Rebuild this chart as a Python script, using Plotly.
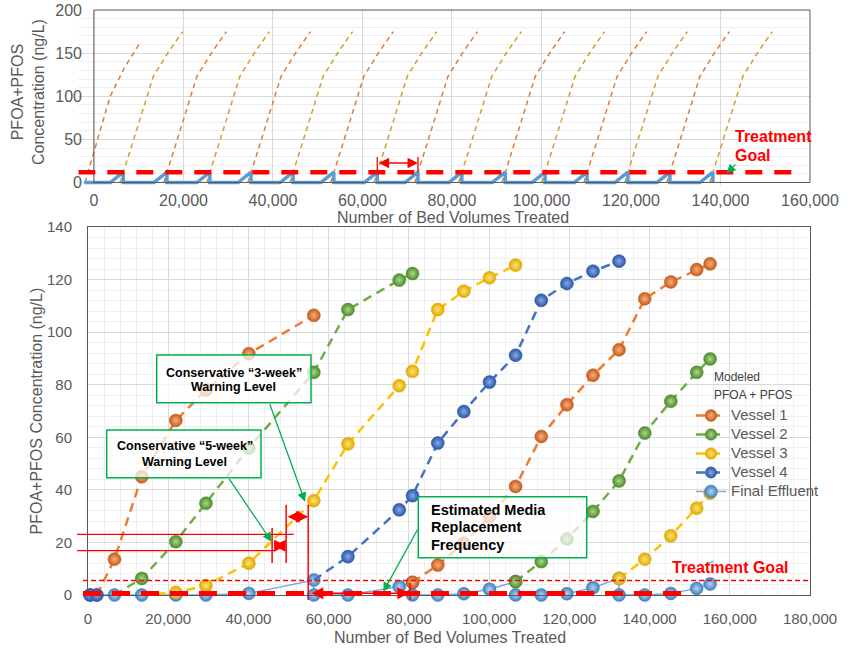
import plotly.graph_objects as go

W, H = 856, 649

# ================= upper panel data (lead/lag sequence) =================
top_goal = 12
top_first_x = [-2000, 3600, 6900, 10300]
top_first_y = [0, 99.5, 134, 162]
top_cross_x = [6550, 16300, 25900, 35100, 44500, 53600, 63300, 72400,
               82200, 91900, 100800, 110200, 119300, 128700, 138300]
top_cross_series = ["B", "A", "B", "A", "B", "A", "B", "A",
                    "B", "A", "B", "A", "B", "A", "B"]
top_curve_dx = [-700, 0, 3350, 6700, 10050, 13300]
top_curve_y = [0, 12, 67, 123, 151, 175]
top_eff_start_x = -2200
top_eff_rise_bv = 2900
top_span_x = [63300, 72400]
top_span_y = 22.6
top_span_tick_y = [12, 29.6]
top_xticks = [0, 20000, 40000, 60000, 80000, 100000, 120000, 140000, 160000]
top_yticks = [0, 50, 100, 150, 200]

# ================= lower panel data =================
v1_start = (2200, 0)
v1a_x = [6600, 13400, 21900, 29400, 40100, 56300]
v1a_y = [13.6, 45.0, 66.4, 78.0, 91.8, 106.4]
v1b_x = [80900, 87200, 93700, 100100, 106600, 113000, 119400, 125900,
         132400, 138800, 145300, 151750, 155100]
v1b_y = [4.8, 11.4, 19.7, 29.8, 41.3, 60.3, 72.4, 83.6, 93.3, 112.7,
         119.1, 123.8, 126.0]

v2_start = (6600, 0)
v2a_x = [13400, 21900, 29400, 40100, 56300, 64800, 77600, 80900]
v2a_y = [6.3, 20.3, 34.9, 55.9, 84.7, 108.6, 119.8, 122.3]
v2b_x = [106600, 113000, 119400, 125900, 132400, 138800, 145300, 151750, 155100]
v2b_y = [5.1, 12.7, 21.3, 31.8, 43.4, 61.6, 73.7, 84.7, 89.8]

v3_start = (13400, 0)
v3a_x = [21900, 29400, 40100, 56300, 64800, 77600, 80900, 87200, 93700,
         100100, 106600]
v3a_y = [1.0, 3.6, 12.1, 35.9, 57.5, 79.6, 85.1, 108.6, 115.6, 120.7, 125.5]
v3b_x = [132400, 138800, 145300, 151750, 155100]
v3b_y = [6.3, 13.6, 22.5, 33.0, 38.7]

v4a_x = [500, 2200]
v4a_y = [0, 0]
v4_start = (56300, 5.7)
v4b_x = [64800, 77600, 80900, 87200, 93700, 100100, 106600, 113000, 119400,
         125900, 132400]
v4b_y = [14.6, 32.4, 37.8, 57.8, 69.8, 81.0, 91.2, 112.1, 118.5, 123.2, 127.0]

eff_x = [500, 2200, 6600, 13400, 21900, 29400, 40100, 56300, 56300, 64800,
         77600, 80900, 80900, 87200, 93700, 100100, 106600, 106600, 113000,
         119400, 125900, 132400, 132400, 138800, 145300, 151750, 155100]
eff_y = [0, 0, 0, 0, 0, 0, 0.6, 5.7, 0, 0, 3.2, 4.8, 0, 0, 0.5, 2.2, 5.1, 0,
         0, 0.5, 2.8, 6.3, 0, 0, 0.6, 2.5, 4.2]
eff_tail_x = [153750, 156000]
eff_tail_y = [11.4, 12.9]

bot_goal = 5.5
bot_base_y = 0.6
warn_levels = [23.1, 16.9]
warn_line_end_x = [51300, 46750]
mark_x = [45900, 49400, 54900, 80300]
mark_y0 = [12.2, 12.2, -1.9, -1.9]
mark_y1 = [25.5, 34.3, 34.3, 4.6]
span_x0 = [45900, 49400, 55300]
span_x1 = [49400, 54900, 80100]
span_y = [18.7, 29.8, 0.65]
bot_xticks = [0, 20000, 40000, 60000, 80000, 100000, 120000, 140000, 160000, 180000]
bot_yticks = [0, 20, 40, 60, 80, 100, 120, 140]

# ================= geometry helpers (screen pixel -> paper) =================
OFF = 0  # page body margin is removed after drawing (see write_html below)


def PX(px):
    return (px - OFF) / W


def PY(py):
    return 1 - (py - OFF) / H


BOT_L, BOT_R, BOT_T, BOT_B = 88, 810, 227, 595
BOT_XR, BOT_YR = (0, 180000), (0, 140)


def BX(v):
    return BOT_L + (v - BOT_XR[0]) / (BOT_XR[1] - BOT_XR[0]) * (BOT_R - BOT_L)


def BY(v):
    return BOT_B - (v - BOT_YR[0]) / (BOT_YR[1] - BOT_YR[0]) * (BOT_B - BOT_T)


TOP_L, TOP_R, TOP_T, TOP_B = 78.3, 810, 10, 185.1
TOP_XR, TOP_YR = (-3500, 160000), (-3, 200)


def TX(v):
    return TOP_L + (v - TOP_XR[0]) / (TOP_XR[1] - TOP_XR[0]) * (TOP_R - TOP_L)


def TY(v):
    return TOP_B - (v - TOP_YR[0]) / (TOP_YR[1] - TOP_YR[0]) * (TOP_B - TOP_T)


FONT = "Liberation Sans, Arial, sans-serif"
GRAY = "#595959"
RED = "#FF0000"
GREEN = "#00B050"

fig = go.Figure()

# ================= upper panel traces =================
ox, oy = list(top_first_x), list(top_first_y)
gx, gy = [], []
for c, s in zip(top_cross_x, top_cross_series):
    xs = [c + d for d in top_curve_dx]
    tx, ty = (ox, oy) if s == "A" else (gx, gy)
    if tx:
        tx.append(None)
        ty.append(None)
    tx.extend(xs)
    ty.extend(top_curve_y)

ex, ey = [top_eff_start_x], [0]
for c in top_cross_x:
    ex += [c - top_eff_rise_bv, c, c]
    ey += [0, top_goal, 0]

fig.add_trace(go.Scatter(x=ox, y=oy, mode="lines", xaxis="x", yaxis="y",
                         line=dict(color="#E07B3C", width=1.5, dash="5px,4px"),
                         showlegend=False, hoverinfo="skip"))
fig.add_trace(go.Scatter(x=gx, y=gy, mode="lines", xaxis="x", yaxis="y",
                         line=dict(color="#CFA12C", width=1.5, dash="5px,4px"),
                         showlegend=False, hoverinfo="skip"))
fig.add_trace(go.Scatter(x=ex, y=ey, mode="lines", xaxis="x", yaxis="y",
                         line=dict(color="#5B9BD5", width=3.5),
                         showlegend=False, hoverinfo="skip"))

# ================= lower panel traces =================
MS = 13


def sphere(edge, center, sizes):
    return dict(size=sizes, color=edge, opacity=1,
                gradient=dict(type="radial", color=center),
                line=dict(color=edge, width=0.5))


def lg(name):
    return f"<span style='font-size:15px'>{name}</span>"


# final effluent first so the vessel markers sit on top
fig.add_trace(go.Scatter(x=eff_x, y=eff_y, mode="lines+markers", name=lg("Final Effluent"),
                         xaxis="x2", yaxis="y2", legendrank=5, cliponaxis=False,
                         line=dict(color="#6FA8DC", width=1.4),
                         marker=sphere("#3F7FBF", "#B4D5F2", MS)))
fig.add_trace(go.Scatter(x=eff_tail_x, y=eff_tail_y, mode="lines", xaxis="x2", yaxis="y2",
                         line=dict(color="#6FA8DC", width=1.4), showlegend=False,
                         hoverinfo="skip"))


def vessel_xy(segments):
    xs, ys, sz = [], [], []
    for start, sx, sy in segments:
        if xs:
            xs.append(None)
            ys.append(None)
            sz.append(0)
        if start is not None:
            xs.append(start[0])
            ys.append(start[1])
            sz.append(0)
        xs.extend(sx)
        ys.extend(sy)
        sz.extend([MS] * len(sx))
    return xs, ys, sz


vessels = [
    ("Vessel 1", "#ED7D31", "#C55A1A", "#F8B07E",
     [(v1_start, v1a_x, v1a_y), (None, v1b_x, v1b_y)], 1),
    ("Vessel 2", "#70AD47", "#4C8A2C", "#A8D888",
     [(v2_start, v2a_x, v2a_y), (None, v2b_x, v2b_y)], 2),
    ("Vessel 3", "#FFC000", "#E0A800", "#FFE476",
     [(v3_start, v3a_x, v3a_y), (None, v3b_x, v3b_y)], 3),
    ("Vessel 4", "#4472C4", "#2A56A8", "#86A9E6",
     [(None, v4a_x, v4a_y), (v4_start, v4b_x, v4b_y)], 4),
]
for name, lc, edge, center, segs, rank in vessels:
    xs, ys, sz = vessel_xy(segs)
    fig.add_trace(go.Scatter(x=xs, y=ys, mode="lines+markers", name=lg(name),
                             xaxis="x2", yaxis="y2", legendrank=rank, cliponaxis=False,
                             connectgaps=False,
                             line=dict(color=lc, width=2.5, dash="9px,6px"),
                             marker=sphere(edge, center, sz)))

# ================= shapes =================
shapes = []
# upper panel: cover grid overflow left of x=0, then frame
shapes.append(dict(type="rect", xref="paper", yref="paper", x0=PX(TOP_L - 1), x1=PX(TX(0) - 0.6),
                   y0=PY(TOP_B + 1), y1=PY(TOP_T - 1), fillcolor="white",
                   line=dict(width=0), layer="between"))
for (x0, y0, x1, y1) in [(TX(0), TOP_T, TOP_R, TOP_T), (TOP_R, TOP_T, TOP_R, TY(0)),
                         (TX(0), TY(0), TOP_R, TY(0)), (TX(0), TOP_T, TX(0), TY(0))]:
    shapes.append(dict(type="line", xref="paper", yref="paper", x0=PX(x0), x1=PX(x1),
                       y0=PY(y0), y1=PY(y1), line=dict(color=GRAY, width=1), layer="above"))
# upper treatment goal
shapes.append(dict(type="line", xref="x", yref="y", x0=TOP_XR[0], x1=158400,
                   y0=top_goal, y1=top_goal,
                   line=dict(color=RED, width=4.5, dash="17px,12px"), layer="above"))
# upper span ticks
for xv in top_span_x:
    shapes.append(dict(type="line", xref="x", yref="y", x0=xv, x1=xv,
                       y0=top_span_tick_y[0], y1=top_span_tick_y[1],
                       line=dict(color=RED, width=1.3), layer="above"))

# lower panel red lines
shapes.append(dict(type="line", xref="paper", yref="paper", x0=PX(83), x1=PX(BOT_R),
                   y0=PY(BY(bot_goal)), y1=PY(BY(bot_goal)),
                   line=dict(color=RED, width=1.5, dash="5px,3px"), layer="above"))
shapes.append(dict(type="line", xref="paper", yref="paper", x0=PX(83), x1=PX(690),
                   y0=PY(BY(bot_base_y)), y1=PY(BY(bot_base_y)),
                   line=dict(color=RED, width=5, dash="18px,11px"), layer="above"))
for lvl, xe in zip(warn_levels, warn_line_end_x):
    shapes.append(dict(type="line", xref="paper", yref="paper", x0=PX(77), x1=PX(BX(xe)),
                       y0=PY(BY(lvl)), y1=PY(BY(lvl)),
                       line=dict(color=RED, width=1.2), layer="above"))
for xv, a, b in zip(mark_x, mark_y0, mark_y1):
    shapes.append(dict(type="line", xref="paper", yref="paper", x0=PX(BX(xv)), x1=PX(BX(xv)),
                       y0=PY(BY(a)), y1=PY(BY(b)),
                       line=dict(color=RED, width=1.5), layer="above"))

# text boxes (green borders, translucent white)
boxes = [(156.7, 355, 311, 402.7), (106.7, 430, 261, 477.7), (418.3, 496.7, 586.7, 557.7)]
for (x0, y0, x1, y1) in boxes:
    shapes.append(dict(type="rect", xref="paper", yref="paper", x0=PX(x0), x1=PX(x1),
                       y0=PY(y1), y1=PY(y0), fillcolor="rgba(255,255,255,0.72)",
                       line=dict(color=GREEN, width=1.5), layer="above"))

# ================= annotations =================
ann = []


def text(px, py, s, size, color="black", bold=True, xanchor="center", angle=0):
    ann.append(dict(xref="paper", yref="paper", x=PX(px), y=PY(py), text=f"<b>{s}</b>" if bold else s,
                    showarrow=False, xanchor=xanchor, yanchor="middle", textangle=angle,
                    font=dict(family=FONT, size=size, color=color)))


text(233.8, 372.7, "Conservative “3-week”", 12.5)
text(233.8, 386.7, "Warning Level", 12.5)
text(184.7, 446.0, "Conservative “5-week”", 12.5)
text(184.7, 461.7, "Warning Level", 12.5)
text(429.3, 510.0, "Estimated Media", 14.5, xanchor="left")
text(429.3, 527.3, "Replacement", 14.5, xanchor="left")
text(429.3, 545.0, "Frequency", 14.5, xanchor="left")
text(733.3, 136.5, "Treatment", 16, RED, xanchor="left")
text(733.3, 155.5, "Goal", 16, RED, xanchor="left")
text(670.0, 567.5, "Treatment Goal", 16, RED, xanchor="left")
text(711.7, 376.7, "Modeled", 12, "#404040", bold=False, xanchor="left")
text(711.7, 395.0, "PFOA + PFOS", 12, "#404040", bold=False, xanchor="left")
# axis titles
text(453, 217, "Number of Bed Volumes Treated", 16, GRAY, bold=False)
text(450, 637, "Number of Bed Volumes Treated", 16, GRAY, bold=False)
text(36, 411.5, "PFOA+PFOS Concentration (ng/L)", 16, GRAY, bold=False, angle=-90)
text(28, 92, "PFOA+PFOS<br>Concentration (ng/L)", 16, GRAY, bold=False, angle=-90)

# green arrows (tail -> head, pixels)
for (tx_, ty_, hx, hy) in [(269.3, 402.7, 305, 501.7), (228.3, 477.7, 271.7, 541.7),
                           (418.3, 528.3, 383.3, 591.7), (737, 163, 726.5, 173.3)]:
    ann.append(dict(xref="paper", yref="paper", x=PX(hx), y=PY(hy), ax=tx_ - hx, ay=ty_ - hy,
                    axref="pixel", ayref="pixel", text="", showarrow=True, arrowhead=2,
                    arrowsize=1.4, arrowwidth=1.3, arrowcolor=GREEN, standoff=0))

# red double arrows
for a, b, yv in zip(span_x0, span_x1, span_y):
    ann.append(dict(xref="x2", yref="y2", x=b, y=yv, ax=a, ay=yv, axref="x2", ayref="y2",
                    text="", showarrow=True, arrowhead=2, arrowside="end+start",
                    arrowsize=1.6, arrowwidth=1.5, arrowcolor=RED, standoff=0, startstandoff=0))
ann.append(dict(xref="x", yref="y", x=top_span_x[1], y=top_span_y, ax=top_span_x[0], ay=top_span_y,
                axref="x", ayref="y", text="", showarrow=True, arrowhead=2, arrowside="end+start",
                arrowsize=1.6, arrowwidth=1.3, arrowcolor=RED, standoff=0, startstandoff=0))

# ================= layout =================
tickfont_top = dict(family=FONT, size=16, color=GRAY)
tickfont_bot = dict(family=FONT, size=15, color=GRAY)

fig.update_layout(
    width=W, height=H, margin=dict(l=0, r=0, t=0, b=0, autoexpand=False),
    paper_bgcolor="white", plot_bgcolor="white",
    font=dict(family=FONT, color=GRAY),
    shapes=shapes, annotations=ann,
    showlegend=True,
    legend=dict(x=PX(691), y=PY(401), xanchor="left", yanchor="top",
                bgcolor="rgba(0,0,0,0)", borderwidth=0,
                font=dict(family=FONT, size=11, color=GRAY),
                tracegroupgap=0),
    xaxis=dict(domain=[PX(TOP_L), PX(TOP_R)], range=list(TOP_XR), anchor="y",
               tickmode="array", tickvals=top_xticks, tickformat=",d", automargin=False,
               showgrid=True, gridcolor="#D9D9D9", zeroline=False, showline=False,
               tickfont=tickfont_top, ticks="", ticklabelstandoff=4),
    yaxis=dict(domain=[PY(TOP_B), PY(TOP_T)], range=list(TOP_YR), anchor="free",
               position=PX(TX(0)), automargin=False, ticklabeloverflow="allow",
               tickmode="array", tickvals=top_yticks,
               showgrid=True, gridcolor="#D9D9D9", zeroline=False, showline=False,
               minor=dict(dtick=10, tick0=0, showgrid=True, gridcolor="#EFEFEF", ticks=""),
               tickfont=tickfont_top, ticks="", ticklabelstandoff=12),
    xaxis2=dict(domain=[PX(BOT_L), PX(BOT_R)], range=list(BOT_XR), anchor="y2",
                tickmode="array", tickvals=bot_xticks, tickformat=",d", automargin=False,
                showgrid=True, gridcolor="#D9D9D9", zeroline=False,
                showline=True, mirror=True, linecolor=GRAY, linewidth=1,
                minor=dict(dtick=4000, tick0=0, showgrid=True, gridcolor="#EFEFEF", ticks=""),
                tickfont=tickfont_bot, ticks="", ticklabelstandoff=10),
    yaxis2=dict(domain=[PY(BOT_B), PY(BOT_T)], range=list(BOT_YR), anchor="x2",
                tickmode="array", tickvals=bot_yticks, automargin=False,
                showgrid=True, gridcolor="#D9D9D9", zeroline=False,
                showline=True, mirror=True, linecolor=GRAY, linewidth=1,
                minor=dict(dtick=4, tick0=0, showgrid=True, gridcolor="#EFEFEF", ticks=""),
                tickfont=tickfont_bot, ticks="", ticklabelstandoff=12),
)

fig.write_html("out.html", config={"displayModeBar": False},
               post_script="document.body.style.margin='0px';")
